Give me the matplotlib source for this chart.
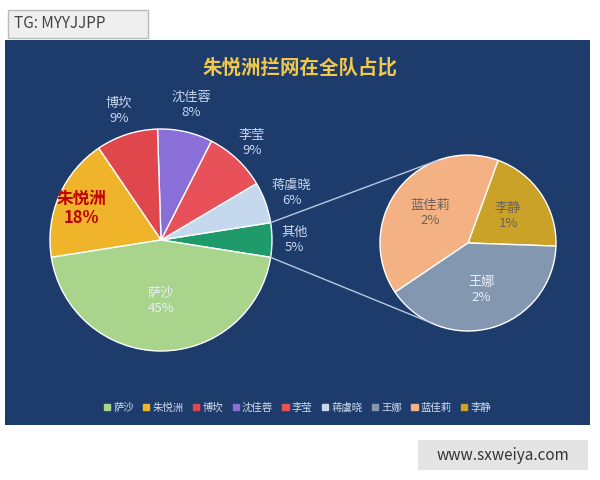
import matplotlib.pyplot as plt
import numpy as np
from matplotlib.patches import Rectangle, Patch

plt.rcParams['font.family'] = ['Noto Sans CJK SC', 'DejaVu Sans']

main_names = ["其他", "蒋虞晓", "李莹", "沈佳蓉", "博坎", "朱悦洲", "萨沙"]
main_vals = [5, 6, 9, 8, 9, 18, 45]
main_colors = ["#1f9a6a", "#c6d8ee", "#e8505a", "#8a6fd8", "#e0474c", "#f0b42a", "#a8d48c"]
sub_names = ["李静", "蓝佳莉", "王娜"]
sub_vals = [1, 2, 2]
sub_colors = ["#c9a227", "#f4b183", "#8497b0"]
legend_order = ["萨沙", "朱悦洲", "博坎", "沈佳蓉", "李莹", "蒋虞晓", "王娜", "蓝佳莉", "李静"]

fig = plt.figure(figsize=(6, 4.8), dpi=100)
fig.patch.set_facecolor("white")
ax = fig.add_axes([5/600, 55/480, 585/600, 385/480])

c1, r1 = (161, 240), 111
c2, r2 = (468, 237), 88
w1, _ = ax.pie(main_vals, colors=main_colors, startangle=-9, center=c1, radius=r1,
               wedgeprops=dict(edgecolor="white", linewidth=1), frame=True)
w2, _ = ax.pie(sub_vals, colors=sub_colors, startangle=-2, center=c2, radius=r2,
               wedgeprops=dict(edgecolor="white", linewidth=1), frame=True)
ax.set_xlim(5, 590); ax.set_ylim(55, 440)
ax.set_facecolor("#1d3c6c")
ax.set_xticks([]); ax.set_yticks([])
for s in ax.spines.values():
    s.set_visible(False)

dist = [1.2, 1.25, 1.2, 1.25, 1.22, 0.72, 0.55]
for w, n, v, d in zip(w1, main_names, main_vals, dist):
    th = np.deg2rad((w.theta1 + w.theta2) / 2)
    x, y = c1[0] + d * r1 * np.cos(th), c1[1] + d * r1 * np.sin(th)
    if n == "朱悦洲":
        ax.text(x - 6, y, f"{n}\n{v}%", color="#c00000", fontsize=12, fontweight="bold",
                ha="center", va="center", linespacing=1.1)
    else:
        ax.text(x, y, f"{n}\n{v}%", color="#e8eef6" if n == "萨沙" else "#c8d6ea",
                fontsize=9.5, ha="center", va="center")
for w, n, v in zip(w2, sub_names, sub_vals):
    th = np.deg2rad((w.theta1 + w.theta2) / 2)
    x, y = c2[0] + 0.55 * r2 * np.cos(th), c2[1] + 0.55 * r2 * np.sin(th)
    ax.text(x, y, f"{n}\n{v}%", color="#e8eef6" if n == "王娜" else "#6b6258",
            fontsize=9.5, ha="center", va="center")

# connector lines
w = w1[0]
for a1, a2 in [(w.theta2, 110), (w.theta1, 245)]:
    p1 = (c1[0] + r1 * np.cos(np.deg2rad(a1)), c1[1] + r1 * np.sin(np.deg2rad(a1)))
    p2 = (c2[0] + r2 * np.cos(np.deg2rad(a2)), c2[1] + r2 * np.sin(np.deg2rad(a2)))
    ax.plot([p1[0], p2[0]], [p1[1], p2[1]], color="#b8c8e0", lw=1)

ax.text(300, 412, "朱悦洲拦网在全队占比", color="#f2c84b", fontsize=14, fontweight="bold",
        ha="center", va="center")

cmap = dict(zip(main_names + sub_names, main_colors + sub_colors))
handles = [Patch(color=cmap[n], label=n) for n in legend_order]
ax.legend(handles=handles, loc="center", bbox_to_anchor=(0.5, 0.045), ncol=9, frameon=False,
          fontsize=7.5, labelcolor="#d0dced", handlelength=0.6, handleheight=0.6,
          columnspacing=0.9, handletextpad=0.3)

fig.patches.append(Rectangle((8/600, 442/480), 140/600, 28/480, transform=fig.transFigure,
                             facecolor="#efefef", edgecolor="#bbbbbb"))
fig.text(14/600, 456/480, "TG: MYYJJPP", fontsize=11, color="#444444", va="center")
fig.patches.append(Rectangle((418/600, 10/480), 170/600, 30/480, transform=fig.transFigure,
                             facecolor="#e4e4e4", edgecolor="none"))
fig.text(503/600, 25/480, "www.sxweiya.com", fontsize=11, color="#333333", ha="center", va="center")

fig.savefig("out.png", dpi=100)
